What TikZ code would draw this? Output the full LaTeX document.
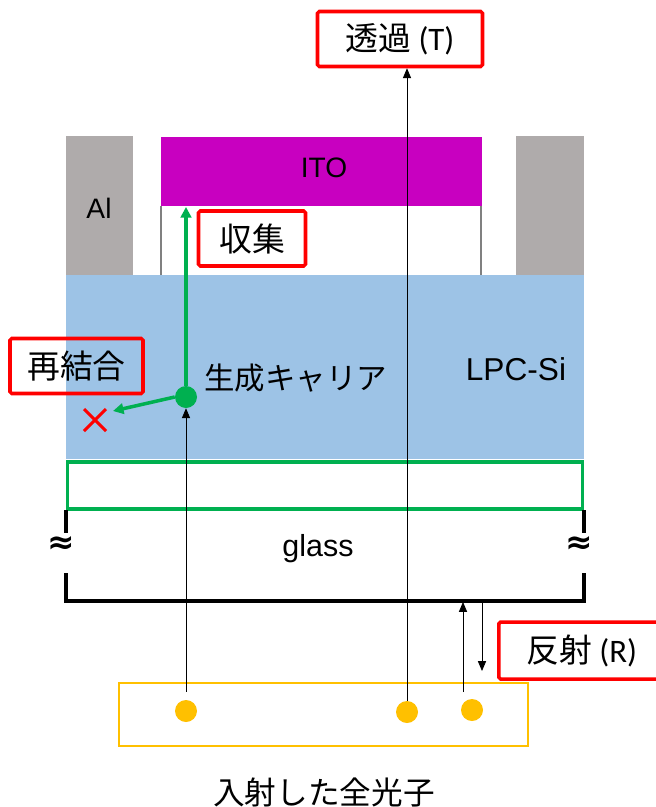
\documentclass[tikz,border=0pt]{standalone}
\usepackage{fontspec}
\setmainfont{Liberation Sans}
\newfontfamily\jp{Noto Sans CJK JP}
\newfontfamily\carl{Carlito}
\newfontfamily\dv{DejaVu Sans}
\usetikzlibrary{arrows.meta}
\definecolor{algray}{HTML}{AFABAB}
\definecolor{itomag}{HTML}{C800C0}
\definecolor{siblue}{HTML}{9DC3E6}
\definecolor{grn}{HTML}{00B050}
\definecolor{yel}{HTML}{FFC000}
\definecolor{rd}{HTML}{FF0000}
\def\u{0.03cm}
\begin{document}
\begin{tikzpicture}[x=0.03cm,y=-0.03cm,
  redbox/.style={draw=rd, line width=3pt, rounded corners=1.5pt, inner sep=0pt, font=\jp\fontsize{28}{30}\selectfont},
  thinarrow/.style={line width=0.7pt, -{Triangle[length=8.5pt,width=7pt]}},
  grnarrow/.style={draw=grn, line width=3pt, -{Triangle[length=9pt,width=9pt]}},
  photon/.style={circle, fill=yel, minimum size=22*\u, inner sep=0pt},
  latin/.style={font=\fontsize{24}{26}\selectfont, inner sep=0pt},
  jptext/.style={font=\jp\fontsize{26}{28}\selectfont, inner sep=0pt},
  approx/.style={font=\dv\bfseries\fontsize{28}{28}\selectfont, inner sep=0pt}]
\useasboundingbox (0,0) rectangle (656,807);
\fill[white] (0,0) rectangle (656,807);
% layers
\fill[algray] (66,136) rectangle (133,276);
\fill[algray] (516,136) rectangle (584,276);
\fill[itomag] (161,137) rectangle (482,206);
\draw[gray, line width=0.9pt] (161,206) -- (161,276) (481,206) -- (481,276);
\fill[siblue] (66,275) rectangle (584,459);
\draw[grn, line width=3.2pt] (67.5,462) rectangle (582.5,509);
% glass bracket
\draw[line width=3.2pt] (66,510) -- (66,533);
\draw[line width=3.2pt] (584,510) -- (584,533);
\draw[line width=3.2pt] (66,573) -- (66,601) -- (584,601) -- (584,573);
\node[approx] (ap1) at (61,545) {≈};
\node[approx] (ap2) at (579,545) {≈};
% photon box
\draw[yel, line width=1.6pt] (119,683) rectangle (528,746);
\node[photon] (p1) at (186,711) {};
\node[photon] (p2) at (407,712) {};
\node[photon] (p3) at (472,710) {};
% labels
\node[redbox, minimum width=165*\u, minimum height=55*\u] (T) at (400,39) {透過 {\carl (T)}};
\node[redbox, minimum width=107*\u, minimum height=55*\u] (col) at (252,238.5) {収集};
\node[redbox, minimum width=133*\u, minimum height=55*\u] (rec) at (76.5,366) {再結合};
\node[redbox, minimum width=166*\u, minimum height=57*\u, anchor=west] (R) at (497,650.5) {反射 {\carl (R)}};
\node[latin] (al) at (99,208) {Al};
\node[latin] (ito) at (324,168) {ITO};
\node[latin, font=\fontsize{27}{29}\selectfont] (lpc) at (516,369) {LPC-Si};
\node[latin, font=\fontsize{26}{28}\selectfont] (glass) at (318,549) {glass};
\node[jptext, anchor=west] (carrier) at (204,378) {生成キャリア};
\node[jptext, font=\jp\fontsize{27}{29}\selectfont] (allph) at (324,792) {入射した全光子};
% carrier
\node[circle, fill=grn, minimum size=22*\u, inner sep=0pt] (gen) at (186,397) {};
\coordinate (itobot) at (186,207);
\coordinate (recend) at (113,411);
% connectors
\draw[thinarrow] (p2.north) -- (p2.north |- T.south);
\draw[thinarrow, shorten <=7pt] (p1.north) -- (gen.south);
\coordinate (rup0) at (463,692);
\coordinate (rup1) at (463,602);
\coordinate (rdn0) at (482,602);
\coordinate (rdn1) at (482,671);
\draw[thinarrow] (rup0) -- (rup1);
\draw[thinarrow] (rdn0) -- (rdn1);
\draw[grnarrow] (gen.north) -- (itobot);
\draw[grnarrow] (gen.west) -- (recend);
% recombination cross
\draw[rd, line width=2.6pt] (84,409) -- (106,431) (84,431) -- (106,409);
\end{tikzpicture}
\end{document}
